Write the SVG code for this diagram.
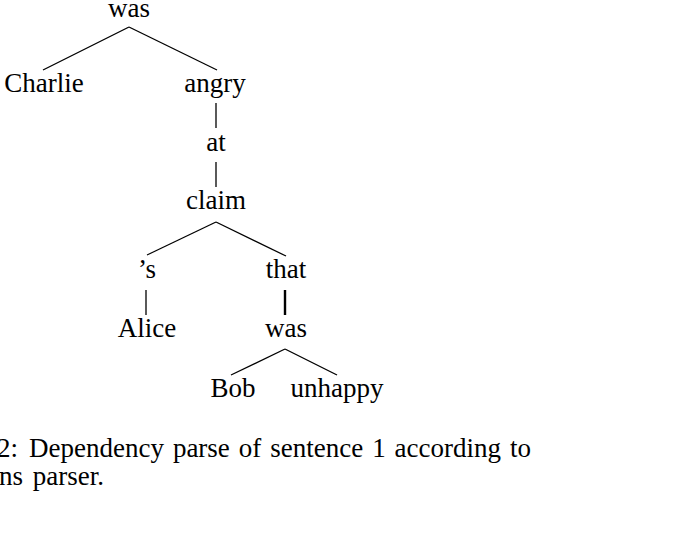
<svg xmlns="http://www.w3.org/2000/svg" width="685" height="540" viewBox="0 0 685 540">
<style>
text{font-family:"Liberation Serif","Times New Roman",serif;font-size:27px;fill:#000}
.n text{text-anchor:middle}
.e line{stroke:#000;stroke-width:1.3}
.e line.t{stroke-width:2.4}
</style>
<rect width="685" height="540" fill="#fff"/>
<g class="e" id="connectors">
<line x1="129" y1="27" x2="43" y2="70"/>
<line x1="129" y1="27" x2="217" y2="70"/>
<line x1="216" y1="103" x2="216" y2="128"/>
<line x1="216" y1="162" x2="216" y2="187"/>
<line x1="216" y1="222" x2="147" y2="255"/>
<line x1="216" y1="222" x2="286" y2="256"/>
<line x1="146" y1="290" x2="146" y2="315"/>
<line class="t" x1="285" y1="290" x2="285" y2="315"/>
<line x1="285" y1="349" x2="231" y2="375"/>
<line x1="285" y1="349" x2="337" y2="375"/>
</g>
<g class="n">
<g id="n-was1"><text x="129" y="17">was</text></g>
<g id="n-charlie"><text x="44" y="92">Charlie</text></g>
<g id="n-angry"><text x="215" y="92">angry</text></g>
<g id="n-at"><text x="216" y="151">at</text></g>
<g id="n-claim"><text x="216" y="209">claim</text></g>
<g id="n-s"><text x="147" y="278">’s</text></g>
<g id="n-that"><text x="286" y="278">that</text></g>
<g id="n-alice"><text x="147" y="337">Alice</text></g>
<g id="n-was2"><text x="286" y="337">was</text></g>
<g id="n-bob"><text x="233" y="397">Bob</text></g>
<g id="n-unhappy"><text x="337" y="397">unhappy</text></g>
</g>
<g id="caption">
<text x="-3" y="457">2:</text>
<text x="29" y="457" word-spacing="2.2">Dependency parse of sentence 1 according to</text>
<text x="-1" y="485" word-spacing="3">ns parser.</text>
</g>
</svg>
